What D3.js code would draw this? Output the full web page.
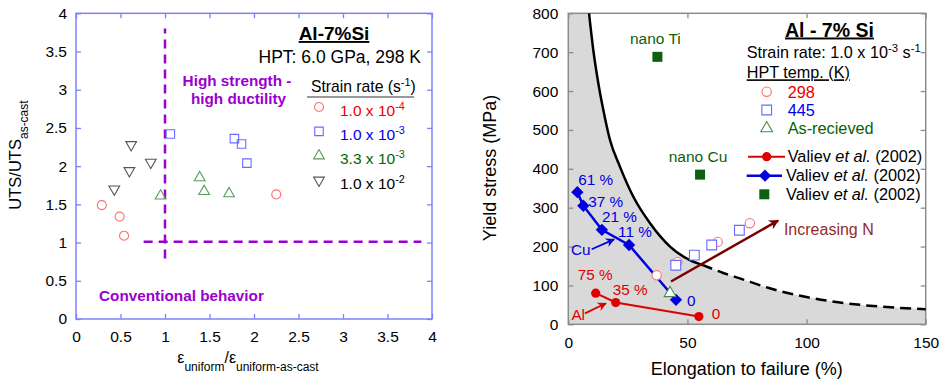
<!DOCTYPE html>
<html>
<head>
<meta charset="utf-8">
<script src="https://cdn.jsdelivr.net/npm/d3@7"></script>
<style>
  body { margin: 0; background: #fff; }
  svg { display: block; font-family: "Liberation Sans", Arial, sans-serif; }
</style>
</head>
<body>
<svg id="chart" width="944" height="384"></svg>
<script>
// ---- left panel data (UTS ratio vs uniform elongation ratio) ----
const rate1e4 = [[0.29, 1.49], [0.49, 1.34], [0.54, 1.09], [2.25, 1.63]];
const rate1e3 = [[1.06, 2.42], [1.78, 2.36], [1.86, 2.29], [1.92, 2.04]];
const rate33e3 = [[0.95, 1.61], [1.39, 1.85], [1.44, 1.67], [1.72, 1.64]];
const rate1e2 = [[0.62, 2.28], [0.84, 2.05], [0.60, 1.94], [0.43, 1.70]];
const rateMantissa = ["1.0", "1.0", "3.3", "1.0"];
const rateExponent = ["-4", "-3", "-3", "-2"];
const leftTicks = [0, 0.5, 1, 1.5, 2, 2.5, 3, 3.5, 4];
const vGuide = [[1, 0.79], [1, 3.8]];
const hGuide = [[0.76, 1.01], [3.88, 1.01]];

// ---- right panel data (yield stress vs elongation) ----
const cuElong = [3.8, 6.3, 14.1, 25.5, 45.2];
const cuYield = [340, 305, 243, 204, 63];
const cuLabels = ["61 %", "37 %", "21 %", "11 %", "0"];
const alElong = [11.5, 19.9, 54.8];
const alYield = [80, 56, 20];
const alLabels = ["75 %", "35 %", "0"];
const nanoNames = ["nano Ti", "nano Cu"];
const nanoElong = [37.4, 55.3];
const nanoYield = [688, 385];
const hpt298 = [[37.1, 126], [45.8, 160], [62.7, 212], [76.2, 260]];
const hpt445 = [[45.1, 152], [52.9, 178], [60.2, 204], [71.8, 242]];
const asReceived = [[42.7, 80]];
const envElong = [8.7, 10.5, 12.6, 14.7, 17.5, 21.7, 27.3, 34.3, 42.7, 51, 56.6, 65, 72, 86, 100, 114, 128, 150];
const envYield = [800, 705, 620, 551, 474, 405, 328, 260, 200, 165, 152, 132, 118, 90, 70, 56, 47, 39];
const envSolidEnd = 56.6;
const rightXTicks = [0, 50, 100, 150];
const rightYTicks = [0, 100, 200, 300, 400, 500, 600, 700, 800];
const incArrow = [[43.1, 110], [88.1, 267]];
const alArrow = [[7.0, 28], [15.8, 54]];
const cuArrow = [[9.8, 193], [19.2, 218.6]];

const FONT = "'Liberation Sans', Arial, sans-serif";
const svg = d3.select("#chart");

const defs = svg.append("defs");
function arrowHead(id, color, w, h) {
  defs.append("marker").attr("id", id)
    .attr("viewBox", "0 0 10 10").attr("refX", 9).attr("refY", 5)
    .attr("markerUnits", "userSpaceOnUse")
    .attr("markerWidth", w).attr("markerHeight", h)
    .attr("orient", "auto")
    .append("path").attr("d", "M0,0 L10,5 L0,10 L3,5 Z").attr("fill", color);
}
arrowHead("headRed", "#e00000", 11, 9);
arrowHead("headBlue", "#0000e0", 11, 9);
arrowHead("headDark", "#7a0000", 15, 10);

function styleAxis(g, color) {
  g.select(".domain").remove();
  g.selectAll(".tick line").attr("stroke", color).attr("stroke-width", 1.3);
  g.selectAll(".tick text").attr("fill", "#000").attr("font-size", 15.5).attr("font-family", FONT);
}

function sup(text, main, exp) {
  text.append("tspan").text(main);
  text.append("tspan").attr("dy", -6).attr("font-size", "0.7em").text(exp);
  text.append("tspan").attr("dy", 6).text("");
}

// =================== LEFT PANEL ===================
const xL = d3.scaleLinear().domain([0, 4]).range([76, 432]);
const yL = d3.scaleLinear().domain([0, 4]).range([319, 13.3]);
const gL = svg.append("g");
const blueAxis = "#8080ff";
const fmt = d3.format("");

gL.append("g").attr("transform", `translate(0,${yL(0)})`)
  .call(d3.axisBottom(xL).tickValues(leftTicks).tickSize(-5).tickPadding(12).tickFormat(fmt))
  .call(styleAxis, blueAxis);
gL.append("g").attr("transform", `translate(${xL(0)},0)`)
  .call(d3.axisLeft(yL).tickValues(leftTicks).tickSize(-5).tickPadding(9).tickFormat(fmt))
  .call(styleAxis, blueAxis);
gL.append("g").attr("transform", `translate(0,${yL(4)})`)
  .call(d3.axisTop(xL).tickValues(leftTicks).tickSize(-5).tickFormat(""))
  .call(styleAxis, blueAxis);
gL.append("g").attr("transform", `translate(${xL(4)},0)`)
  .call(d3.axisRight(yL).tickValues(leftTicks).tickSize(-5).tickFormat(""))
  .call(styleAxis, blueAxis);
gL.append("rect")
  .attr("x", xL(0)).attr("y", yL(4))
  .attr("width", xL(4) - xL(0)).attr("height", yL(0) - yL(4))
  .attr("fill", "none").attr("stroke", blueAxis).attr("stroke-width", 1.5);

// dashed guides
const purple = "#9b00d0";
const guideLine = d3.line().x(d => xL(d[0])).y(d => yL(d[1]));
[vGuide, hGuide].forEach(pts => {
  gL.append("path").attr("d", guideLine(pts))
    .attr("stroke", purple).attr("stroke-width", 2.5)
    .attr("stroke-dasharray", "9,6").attr("fill", "none");
});

// markers
const leftSeries = [
  {data: rate1e4, type: d3.symbolCircle, size: 64, stroke: "#ff7070", rot: 0, text: "#ee0000"},
  {data: rate1e3, type: d3.symbolSquare, size: 72, stroke: "#6a6aff", rot: 0, text: "#0000ee"},
  {data: rate33e3, type: d3.symbolTriangle, size: 50, stroke: "#5a9a5a", rot: 0, text: "#006600"},
  {data: rate1e2, type: d3.symbolTriangle, size: 50, stroke: "#555555", rot: 180, text: "#000000"}
];
leftSeries.forEach(s => {
  gL.append("g").selectAll("path").data(s.data).join("path")
    .attr("d", d3.symbol().type(s.type).size(s.size))
    .attr("transform", d => `translate(${xL(d[0])},${yL(d[1])}) rotate(${s.rot})`)
    .attr("fill", "none").attr("stroke", s.stroke).attr("stroke-width", 1.1);
});

// texts
gL.append("text").attr("x", 334).attr("y", 40).attr("text-anchor", "middle")
  .attr("font-size", 19).attr("font-weight", "bold")
  .attr("text-decoration", "underline").text("Al-7%Si");
gL.append("text").attr("x", 421).attr("y", 63).attr("text-anchor", "end")
  .attr("font-size", 17.5).text("HPT: 6.0 GPa, 298 K");
gL.append("text").attr("x", 237).attr("y", 86).attr("text-anchor", "middle")
  .attr("font-size", 15.3).attr("font-weight", "bold").attr("fill", purple).text("High strength -");
gL.append("text").attr("x", 238.5).attr("y", 104).attr("text-anchor", "middle")
  .attr("font-size", 15.3).attr("font-weight", "bold").attr("fill", purple).text("high ductility");
gL.append("text").attr("x", 99).attr("y", 301)
  .attr("font-size", 15.3).attr("font-weight", "bold").attr("fill", purple).text("Conventional behavior");

// legend
const legL = gL.append("g");
const srText = legL.append("text").attr("x", 311).attr("y", 92).attr("font-size", 15.7);
srText.append("tspan").text("Strain rate (s");
srText.append("tspan").attr("dy", -6).attr("font-size", "0.7em").text("-1");
srText.append("tspan").attr("dy", 6).text(")");
legL.append("line").attr("x1", 307).attr("x2", 414).attr("y1", 97).attr("y2", 97)
  .attr("stroke", "#777").attr("stroke-width", 1.5);
leftSeries.forEach((s, i) => {
  const yy = 107 + i * 24.4;
  legL.append("path").attr("d", d3.symbol().type(s.type).size(s.size))
    .attr("transform", `translate(319,${yy}) rotate(${s.rot})`)
    .attr("fill", "none").attr("stroke", s.stroke).attr("stroke-width", 1.1);
  const t = legL.append("text").attr("x", 340).attr("y", yy + 8.5)
    .attr("font-size", 15.5).attr("fill", s.text);
  sup(t, rateMantissa[i] + " x 10", rateExponent[i]);
});

// axis titles
const xtL = gL.append("text").attr("x", 248).attr("y", 363).attr("text-anchor", "middle").attr("font-size", 16);
xtL.append("tspan").text("ε");
xtL.append("tspan").attr("dy", 8).attr("font-size", 12).text("uniform");
xtL.append("tspan").attr("dy", -8).text("/ε");
xtL.append("tspan").attr("dy", 8).attr("font-size", 12).text("uniform-as-cast");
const ytL = gL.append("text").attr("transform", "translate(21,155) rotate(-90)")
  .attr("text-anchor", "middle").attr("font-size", 16.5);
ytL.append("tspan").text("UTS/UTS");
ytL.append("tspan").attr("dy", 7).attr("font-size", 12).text("as-cast");

// =================== RIGHT PANEL ===================
const xR = d3.scaleLinear().domain([0, 150]).range([568.3, 925.7]);
const yR = d3.scaleLinear().domain([0, 800]).range([324.3, 13.3]);
const gR = svg.append("g");
const grayAxis = "#8c8c8c";

const envPts = envElong.map((e, i) => [e, envYield[i]]);
const envLine = d3.line().x(d => xR(d[0])).y(d => yR(d[1])).curve(d3.curveMonotoneX);
const envPath = envLine(envPts);

// shaded region under the envelope
gR.append("path")
  .attr("d", envPath + `L${xR(150)},${yR(0)}L${xR(0)},${yR(0)}L${xR(0)},${yR(800)}Z`)
  .attr("fill", "#d9d9d9");

gR.append("g").attr("transform", `translate(0,${yR(0)})`)
  .call(d3.axisBottom(xR).tickValues(rightXTicks).tickSize(-5).tickPadding(13))
  .call(styleAxis, grayAxis);
gR.append("g").attr("transform", `translate(${xR(0)},0)`)
  .call(d3.axisLeft(yR).tickValues(rightYTicks).tickSize(-5).tickPadding(10))
  .call(styleAxis, grayAxis);
gR.append("g").attr("transform", `translate(0,${yR(800)})`)
  .call(d3.axisTop(xR).tickValues(rightXTicks).tickSize(-5).tickFormat(""))
  .call(styleAxis, grayAxis);
gR.append("g").attr("transform", `translate(${xR(150)},0)`)
  .call(d3.axisRight(yR).tickValues(rightYTicks).tickSize(-5).tickFormat(""))
  .call(styleAxis, grayAxis);
gR.append("rect")
  .attr("x", xR(0)).attr("y", yR(800))
  .attr("width", xR(150) - xR(0)).attr("height", yR(0) - yR(800))
  .attr("fill", "none").attr("stroke", grayAxis).attr("stroke-width", 1.5);

// envelope: solid then dashed
defs.append("clipPath").attr("id", "clipSolid").append("rect")
  .attr("x", 0).attr("y", 0).attr("width", xR(envSolidEnd)).attr("height", 384);
defs.append("clipPath").attr("id", "clipDash").append("rect")
  .attr("x", xR(envSolidEnd)).attr("y", 0).attr("width", 944 - xR(envSolidEnd)).attr("height", 384);
gR.append("path").attr("d", envPath).attr("clip-path", "url(#clipSolid)")
  .attr("fill", "none").attr("stroke", "#000").attr("stroke-width", 2.5);
gR.append("path").attr("d", envPath).attr("clip-path", "url(#clipDash)")
  .attr("fill", "none").attr("stroke", "#000").attr("stroke-width", 2.5)
  .attr("stroke-dasharray", "11,6");

// Valiev lines
const cuPts = cuElong.map((e, i) => [e, cuYield[i]]);
const alPts = alElong.map((e, i) => [e, alYield[i]]);
const plain = d3.line().x(d => xR(d[0])).y(d => yR(d[1]));
const blue = "#0000e0", red = "#e00000", dkGreen = "#0d600d";

const hptSeries = [
  {data: hpt298, type: d3.symbolCircle, size: 68, stroke: "#ff7070", rot: 0},
  {data: hpt445, type: d3.symbolSquare, size: 95, stroke: "#6a6aff", rot: 0},
  {data: asReceived, type: d3.symbolTriangle, size: 60, stroke: "#4a8a4a", rot: 0}
];

gR.append("path").attr("d", plain(cuPts)).attr("fill", "none").attr("stroke", blue).attr("stroke-width", 2.5);
gR.append("g").selectAll("path").data(cuPts).join("path")
  .attr("d", d3.symbol().type(d3.symbolSquare).size(76))
  .attr("transform", d => `translate(${xR(d[0])},${yR(d[1])}) rotate(45)`)
  .attr("fill", blue);
gR.append("g").selectAll("text").data(cuPts).join("text")
  .attr("x", (d, i) => xR(d[0]) + [1, 5, 0, -11, 11][i])
  .attr("y", (d, i) => yR(d[1]) + [-7, 1, -8, -8, 6][i])
  .attr("font-size", 15.3).attr("fill", blue)
  .text((d, i) => cuLabels[i]);

gR.append("path").attr("d", plain(alPts)).attr("fill", "none").attr("stroke", red).attr("stroke-width", 2);
gR.append("g").selectAll("circle").data(alPts).join("circle")
  .attr("cx", d => xR(d[0])).attr("cy", d => yR(d[1])).attr("r", 4.6).attr("fill", red);
gR.append("g").selectAll("text").data(alPts).join("text")
  .attr("x", (d, i) => xR(d[0]) + [-18, -3, 13][i])
  .attr("y", (d, i) => yR(d[1]) + [-13, -8, 2][i])
  .attr("font-size", 15.3).attr("fill", red)
  .text((d, i) => alLabels[i]);

hptSeries.forEach(s => {
  gR.append("g").selectAll("path").data(s.data).join("path")
    .attr("d", d3.symbol().type(s.type).size(s.size))
    .attr("transform", d => `translate(${xR(d[0])},${yR(d[1])}) rotate(${s.rot})`)
    .attr("fill", "#fff").attr("stroke", s.stroke).attr("stroke-width", 1.1);
});

// nano Ti / Cu
gR.append("g").selectAll("rect").data(nanoElong).join("rect")
  .attr("x", (d) => xR(d) - 5).attr("y", (d, i) => yR(nanoYield[i]) - 5)
  .attr("width", 10).attr("height", 10).attr("fill", dkGreen);
gR.append("g").selectAll("text").data(nanoElong).join("text")
  .attr("x", d => xR(d) - 2).attr("y", (d, i) => yR(nanoYield[i]) - 12.5)
  .attr("text-anchor", "middle").attr("font-size", 15.5).attr("fill", dkGreen)
  .text((d, i) => nanoNames[i]);

// annotation arrows
function arrow(pts, color, width, head) {
  gR.append("path").attr("d", plain(pts)).attr("stroke", color)
    .attr("stroke-width", width).attr("fill", "none")
    .attr("marker-end", `url(#${head})`);
}
arrow(incArrow, "#7a0000", 2.5, "headDark");
arrow(alArrow, red, 1.8, "headRed");
arrow(cuArrow, blue, 1.8, "headBlue");
gR.append("text").attr("x", xR(90.5)).attr("y", yR(230)).attr("font-size", 16)
  .attr("fill", "#962a2a").text("Increasing N");
gR.append("text").attr("x", xR(1.3)).attr("y", yR(11)).attr("font-size", 15.3)
  .attr("fill", red).text("Al");
gR.append("text").attr("x", xR(1.1)).attr("y", yR(178)).attr("font-size", 15.3)
  .attr("fill", blue).text("Cu");

// legend block
const legR = gR.append("g");
legR.append("text").attr("x", 785).attr("y", 36.5).attr("font-size", 19.5)
  .attr("font-weight", "bold").attr("text-decoration", "underline").text("Al - 7% Si");
const sr2 = legR.append("text").attr("x", 746.7).attr("y", 58.3).attr("font-size", 16.2);
sr2.append("tspan").text("Strain rate: 1.0 x 10");
sr2.append("tspan").attr("dy", -6).attr("font-size", "0.7em").text("-3");
sr2.append("tspan").attr("dy", 6).text(" s");
sr2.append("tspan").attr("dy", -6).attr("font-size", "0.7em").text("-1");
legR.append("text").attr("x", 746.7).attr("y", 78.3).attr("font-size", 16.2)
  .attr("text-decoration", "underline").text("HPT temp. (K)");
const hptNames = ["298", "445", "As-recieved"];
const hptColors = ["#ee0000", "#0000ee", "#006600"];
hptSeries.forEach((s, i) => {
  const yy = 91.7 + i * 18.3;
  legR.append("path").attr("d", d3.symbol().type(s.type).size(s.size))
    .attr("transform", `translate(766.7,${yy})`)
    .attr("fill", "#fff").attr("stroke", s.stroke).attr("stroke-width", 1.1);
  legR.append("text").attr("x", 787.7).attr("y", yy + 6).attr("font-size", 16.3)
    .attr("fill", hptColors[i]).text(hptNames[i]);
});
const valievRows = [156.7, 175.7, 194.3];
valievRows.forEach((yy, i) => {
  if (i === 0) {
    legR.append("line").attr("x1", 748).attr("x2", 785).attr("y1", yy).attr("y2", yy)
      .attr("stroke", red).attr("stroke-width", 2);
    legR.append("circle").attr("cx", 766.7).attr("cy", yy).attr("r", 4.6).attr("fill", red);
  } else if (i === 1) {
    legR.append("line").attr("x1", 746.7).attr("x2", 782).attr("y1", yy).attr("y2", yy)
      .attr("stroke", blue).attr("stroke-width", 2.5);
    legR.append("path").attr("d", d3.symbol().type(d3.symbolSquare).size(76))
      .attr("transform", `translate(765,${yy}) rotate(45)`).attr("fill", blue);
  } else {
    legR.append("rect").attr("x", 764.3 - 5).attr("y", yy - 5)
      .attr("width", 10).attr("height", 10).attr("fill", dkGreen);
  }
  const t = legR.append("text").attr("x", i === 0 ? 787.7 : 786).attr("y", yy + 5.5).attr("font-size", 16.3);
  t.append("tspan").text("Valiev ");
  t.append("tspan").attr("font-style", "italic").text("et al.");
  t.append("tspan").text(" (2002)");
});

// axis titles
gR.append("text").attr("x", 746.7).attr("y", 375).attr("text-anchor", "middle")
  .attr("font-size", 18).text("Elongation to failure (%)");
gR.append("text").attr("transform", "translate(496,168) rotate(-90)")
  .attr("text-anchor", "middle").attr("font-size", 18).text("Yield stress (MPa)");
</script>
</body>
</html>
